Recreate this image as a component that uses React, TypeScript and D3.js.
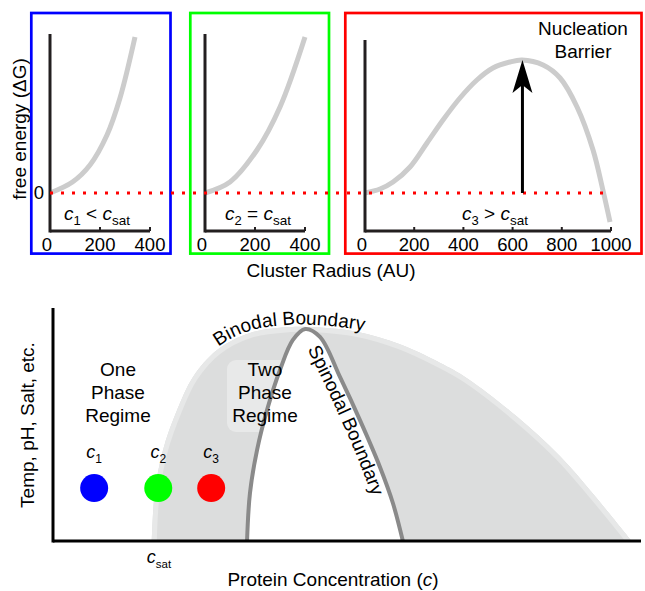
import React from 'react';
import * as d3 from 'd3';

// ---- top row: free energy vs cluster radius ----
const radiusTicksShort = [0, 200, 400];
const radiusTicksLong = [0, 200, 400, 600, 800, 1000];

// [radius (AU), free energy (arbitrary)]
const energyBelowSat: [number, number][] = [
  [0, 0], [90, 1.1], [160, 2.8], [228, 5.8], [280, 9.5], [340, 15.6],
];
const energyAtSat: [number, number][] = [
  [0, 0], [100, 1.1], [208, 4.3], [300, 8.6], [400, 15.6],
];
const energyAboveSat: [number, number][] = [
  [0, 0], [61, 0.4], [114, 1.1], [183, 2.6], [252, 5], [317, 7.3], [386, 9.5],
  [455, 11.3], [520, 12.5], [589, 13.1], [638, 13.3], [724, 12.8], [793, 11.5],
  [862, 8.6], [927, 4.3], [967, 0.3], [996, -2.9],
];
const barrierRadius = 640;
const barrierEnergy = 13.3;

// ---- bottom: phase diagram ----
// [protein concentration, temp/pH/salt] both 0-100 arbitrary
const binodalCurve: [number, number][] = [
  [16.8, 0], [17.3, 20.6], [18.7, 39], [21.1, 56.2], [23.8, 70.4], [27.9, 82],
  [33.5, 89.3], [40.3, 91.8], [43.7, 91.8], [51.7, 89.8], [59, 84.4], [65.8, 76.5],
  [70.4, 69.9], [78.9, 53.4], [86.2, 36.5], [91.8, 20.4], [98.4, 0],
];
const spinodalCurve: [number, number][] = [
  [33, 0], [33.5, 20.6], [34.7, 39], [36.4, 56.2], [38.6, 73.4], [40.8, 86.3],
  [42.9, 91], [45.4, 87.6], [48.8, 70.4], [52.2, 51.9], [55.6, 31.8], [57.8, 16.3], [59.5, 0],
];
const sampleNames = ['1', '2', '3'];
const sampleConc = [7, 17.9, 26.9];
const sampleColors = ['#0000ff', '#00ff00', '#ff0000'];
const sampleLevel = 22.7;
const cSat = 16.8;

const FONT = 'Liberation Sans, Arial, Helvetica, sans-serif';
const AXIS = '#231f20';

const yEnergy = d3.scaleLinear().domain([-3.8, 15.8]).range([231, 35]);

const panels = [
  { sub: '1', rel: '<', color: '#0000ff', box: [31.3, 170.5], range: [50, 150], max: 400, ticks: radiusTicksShort, data: energyBelowSat, yTop: 15.9, labelX: 97 },
  { sub: '2', rel: '=', color: '#00ff00', box: [190.3, 329], range: [205, 305], max: 400, ticks: radiusTicksShort, data: energyAtSat, yTop: 15.9, labelX: 258 },
  { sub: '3', rel: '>', color: '#ff0000', box: [345.3, 641.5], range: [365, 611], max: 1000, ticks: radiusTicksLong, data: energyAboveSat, yTop: 15.3, labelX: 495 },
];

const xConc = d3.scaleLinear().domain([0, 100]).range([53, 641]);
const yTemp = d3.scaleLinear().domain([0, 100]).range([541, 308]);

const smooth = d3.curveCatmullRom.alpha(0.5);

function Relation({ x, y, sub, rel }: { x: number; y: number; sub: string; rel: string }) {
  return (
    <text x={x} y={y} textAnchor="middle" fontSize={19} fill="#000">
      <tspan fontStyle="italic">c</tspan>
      <tspan fontSize={13} dy={5}>{sub}</tspan>
      <tspan dy={-5}>{` ${rel} `}</tspan>
      <tspan fontStyle="italic">c</tspan>
      <tspan fontSize={13.5} dy={5}>sat</tspan>
    </text>
  );
}

export default function App() {
  const y0 = yEnergy(0);
  const axisY = yEnergy(-3.8);
  const redX = d3.scaleLinear().domain([0, 1000]).range([365, 611]);
  const tipX = redX(barrierRadius);
  const tipY = yEnergy(barrierEnergy);

  const dome = d3.line<[number, number]>().x(d => xConc(d[0])).y(d => yTemp(d[1])).curve(smooth);
  const binodalD = dome(binodalCurve) + 'Z';
  const spinodalD = dome(spinodalCurve) + 'Z';
  const binodalLabelD = dome(binodalCurve.slice(4, 13).map(([a, b]) => [a, b + 1.0] as [number, number])) || '';
  const spinodalLabelD = dome(spinodalCurve.slice(7).map(([a, b]) => [a - 3.2, b] as [number, number])) || '';

  return (
    <svg width={645} height={591} style={{ position: 'absolute', left: 0, top: 0, background: '#fff' }}
      fontFamily={FONT}>
      {/* ---------- top row ---------- */}
      {panels.map((p, i) => {
        const x = d3.scaleLinear().domain([0, p.max]).range(p.range);
        const line = d3.line<[number, number]>().x(d => x(d[0])).y(d => yEnergy(d[1])).curve(smooth);
        return (
          <g key={i}>
            <rect x={p.box[0]} y={13} width={p.box[1] - p.box[0]} height={240.6}
              fill="none" stroke={p.color} strokeWidth={2.7} />
            <path d={line(p.data) || ''} fill="none" stroke="#cccccc" strokeWidth={5} />
            <line x1={x(0)} x2={x(0)} y1={axisY + 1.5} y2={yEnergy(p.yTop)} stroke={AXIS} strokeWidth={3} />
            <line x1={x(0)} x2={x(p.max)} y1={axisY} y2={axisY} stroke={AXIS} strokeWidth={3} />
            {p.ticks.slice(1).map(t => (
              <line key={t} x1={x(t)} x2={x(t)} y1={axisY} y2={axisY - 4} stroke={AXIS} strokeWidth={2} />
            ))}
            {p.ticks.map(t => (
              <text key={t} x={x(t) - (t === 0 ? 3 : 0)} y={251} textAnchor="middle" fontSize={18.5}>{t}</text>
            ))}
            <Relation x={p.labelX} y={220} sub={p.sub} rel={p.rel} />
          </g>
        );
      })}
      <line x1={50} x2={611} y1={y0} y2={y0} stroke="#ff0000" strokeWidth={3} strokeDasharray="3 8" />
      <line x1={tipX} x2={tipX} y1={y0} y2={tipY + 20} stroke="#000" strokeWidth={3} />
      <path d={`M${tipX},${tipY} L${tipX + 10},${tipY + 33} L${tipX},${tipY + 25} L${tipX - 10},${tipY + 33} Z`} fill="#000" />
      <text x={583} y={35} textAnchor="middle" fontSize={19}>Nucleation</text>
      <text x={583} y={58} textAnchor="middle" fontSize={19}>Barrier</text>
      <text x={44} y={y0} dy="0.35em" textAnchor="end" fontSize={18.5}>0</text>
      <text transform="translate(26,129) rotate(-90)" textAnchor="middle" fontSize={19}>free energy (ΔG)</text>
      <text x={331} y={277} textAnchor="middle" fontSize={19}>Cluster Radius (AU)</text>

      {/* ---------- bottom: phase diagram ---------- */}
      <defs>
        <clipPath id="binodal-clip"><path d={binodalD} /></clipPath>
        <path id="binodal-label" d={binodalLabelD} />
        <path id="spinodal-label" d={spinodalLabelD} />
      </defs>
      <path d={binodalD} fill="#dcdddd" />
      <path d={dome(binodalCurve) || ''} fill="none" stroke="#e7e8e8" strokeWidth={10} clipPath="url(#binodal-clip)" />
      <path d={spinodalD} fill="#fff" />
      <rect x={227} y={360} width={74} height={72} rx={9} fill="#fff" fillOpacity={0.35} />
      <path d={dome(spinodalCurve) || ''} fill="none" stroke="#8a8a8a" strokeWidth={4} />

      <text fontSize={19}>
        <textPath href="#binodal-label" startOffset={38}>Binodal Boundary</textPath>
      </text>
      <text fontSize={19}>
        <textPath href="#spinodal-label" startOffset={14}>Spinodal Boundary</textPath>
      </text>

      {['One', 'Phase', 'Regime'].map((w, i) => (
        <text key={w} x={118} y={376 + i * 23} textAnchor="middle" fontSize={19}>{w}</text>
      ))}
      {['Two', 'Phase', 'Regime'].map((w, i) => (
        <text key={w} x={265} y={376 + i * 23} textAnchor="middle" fontSize={19}>{w}</text>
      ))}

      {sampleConc.map((c, i) => (
        <g key={i}>
          <circle cx={xConc(c)} cy={yTemp(sampleLevel)} r={14} fill={sampleColors[i]} />
          <text x={xConc(c)} y={yTemp(sampleLevel) - 30} textAnchor="middle" fontSize={18}>
            <tspan fontStyle="italic">c</tspan>
            <tspan fontSize={12} dy={5}>{sampleNames[i]}</tspan>
          </text>
        </g>
      ))}

      <line x1={xConc(0)} x2={xConc(0)} y1={yTemp(0) + 1.5} y2={yTemp(100)} stroke="#000" strokeWidth={3} />
      <line x1={xConc(0)} x2={xConc(100)} y1={yTemp(0)} y2={yTemp(0)} stroke="#000" strokeWidth={3} />
      <text x={xConc(cSat) - 5} y={563} fontSize={18}>
        <tspan fontStyle="italic">c</tspan>
        <tspan fontSize={11.5} dy={5}>sat</tspan>
      </text>
      <text transform="translate(34,425) rotate(-90)" textAnchor="middle" fontSize={19}>Temp, pH, Salt, etc.</text>
      <text x={333} y={586} textAnchor="middle" fontSize={19}>
        Protein Concentration (<tspan fontStyle="italic">c</tspan>)
      </text>
    </svg>
  );
}
